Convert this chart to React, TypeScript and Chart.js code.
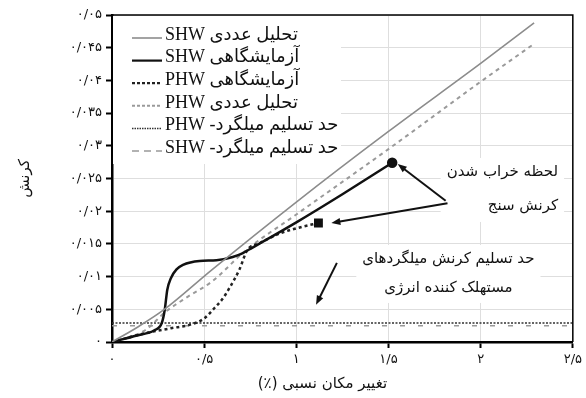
import React, { useEffect, useRef } from "react";
import { Chart, registerables } from "chart.js";
Chart.register(...registerables);

// ---------- data ----------
const xTickLabels = ["۰", "۰/۵", "۱", "۱/۵", "۲", "۲/۵"];
const yTickLabels = ["۰", "۰/۰۰۵", "۰/۰۱", "۰/۰۱۵", "۰/۰۲", "۰/۰۲۵", "۰/۰۳", "۰/۰۳۵", "۰/۰۴", "۰/۰۴۵", "۰/۰۵"];

const seriesLabels = [
  "تحلیل عددی SHW",
  "آزمایشگاهی SHW",
  "آزمایشگاهی PHW",
  "تحلیل عددی PHW",
  "حد تسلیم میلگرد- PHW",
  "حد تسلیم میلگرد- SHW",
];

const shwNumX = [0, 0.14, 0.28, 0.54, 1.0, 1.5, 2.0, 2.29];
const shwNumY = [0, 0.0023, 0.0049, 0.011, 0.0214, 0.0322, 0.0426, 0.0488];

const shwExpX = [0, 0.135, 0.23, 0.27, 0.286, 0.3, 0.32, 0.35, 0.385, 0.475, 0.567, 0.655, 0.71, 0.76, 1.0, 1.25, 1.52];
const shwExpY = [0, 0.001, 0.0018, 0.0029, 0.0049, 0.008, 0.0098, 0.0111, 0.0118, 0.0124, 0.0125, 0.013, 0.0136, 0.0144, 0.0183, 0.0226, 0.0274];

const phwExpX = [0, 0.19, 0.32, 0.43, 0.5, 0.556, 0.6, 0.64, 0.69, 0.735, 0.8, 0.92, 1.03, 1.12];
const phwExpY = [0, 0.0014, 0.0021, 0.0027, 0.0036, 0.0052, 0.0066, 0.0084, 0.011, 0.0141, 0.0151, 0.0167, 0.0176, 0.0182];

const phwNumX = [0, 0.18, 0.29, 0.41, 0.54, 0.73, 1.0, 1.5, 2.0, 2.28];
const phwNumY = [0, 0.0018, 0.0046, 0.0069, 0.0092, 0.0141, 0.0195, 0.0295, 0.0398, 0.0454];

const yieldX = [0, 2.5];
const phwYieldY = [0.0029, 0.0029];
const shwYieldY = [0.0025, 0.0025];

const xTitle = "تغییر مکان نسبی (٪)";
const yTitle = "کرنش";
const noteGauge = ["لحظه خراب شدن", "کرنش سنج"];
const noteYield = ["حد تسلیم کرنش میلگردهای", "مستهلک کننده انرژی"];

// annotation anchors in data units
const gaugeNoteAt = { x: 2.42, y: 0.026 };
const yieldNoteAt = { x: 1.825, y: 0.0127 };
const arrows = [
  { x1: 1.81, y1: 0.0216, x2: 1.55, y2: 0.0272 },
  { x1: 1.82, y1: 0.0212, x2: 1.19, y2: 0.0182 },
  { x1: 1.22, y1: 0.0121, x2: 1.107, y2: 0.0057 },
];

const mk = (xs: number[], ys: number[]) => xs.map((v, i) => ({ x: v, y: ys[i] }));

const legendDash = [[], [], [3, 2], [3, 2], [1.5, 1], [7, 5]];
const PERSIAN = "'DejaVu Sans', sans-serif";
const MIXED = "'Liberation Serif', 'DejaVu Sans', serif";

function drawArrow(ctx: CanvasRenderingContext2D, x1: number, y1: number, x2: number, y2: number) {
  const ang = Math.atan2(y2 - y1, x2 - x1);
  const L = 9, W = 3.5;
  ctx.beginPath();
  ctx.moveTo(x1, y1);
  ctx.lineTo(x2 - L * 0.8 * Math.cos(ang), y2 - L * 0.8 * Math.sin(ang));
  ctx.stroke();
  ctx.beginPath();
  ctx.moveTo(x2, y2);
  ctx.lineTo(x2 - L * Math.cos(ang) + W * Math.sin(ang), y2 - L * Math.sin(ang) - W * Math.cos(ang));
  ctx.lineTo(x2 - L * Math.cos(ang) - W * Math.sin(ang), y2 - L * Math.sin(ang) + W * Math.cos(ang));
  ctx.closePath();
  ctx.fill();
}

const annotPlugin = {
  id: "annot",
  beforeDatasetsDraw(chart: any) {
    const { ctx, chartArea: ca, scales } = chart;
    const x = scales.x, y = scales.y;
    ctx.save();
    ctx.fillStyle = "#fff";
    // legend background
    ctx.fillRect(ca.left + 1, ca.top + 1, 228, 148);
    // note backgrounds
    ctx.font = `15px ${PERSIAN}`;
    const gx = x.getPixelForValue(gaugeNoteAt.x), gy = y.getPixelForValue(gaugeNoteAt.y);
    const gw = Math.max(...noteGauge.map((t) => ctx.measureText(t).width));
    ctx.fillRect(gx - gw - 6, gy - 14, gw + 12, 64);
    const yx = x.getPixelForValue(yieldNoteAt.x), yy = y.getPixelForValue(yieldNoteAt.y);
    const yw = Math.max(...noteYield.map((t) => ctx.measureText(t).width));
    ctx.fillRect(yx - yw / 2 - 6, yy - 14, yw + 12, 58);
    ctx.restore();
  },
  afterDraw(chart: any) {
    const { ctx, chartArea: ca, scales } = chart;
    const x = scales.x, y = scales.y;
    ctx.save();
    // frame (top/right)
    ctx.strokeStyle = "#000";
    ctx.lineWidth = 1.5;
    ctx.beginPath();
    ctx.moveTo(ca.left, ca.top);
    ctx.lineTo(ca.right, ca.top);
    ctx.lineTo(ca.right, ca.bottom);
    ctx.stroke();

    // legend
    chart.data.datasets.forEach((ds: any, i: number) => {
      const ry = ca.top + 23 + i * 22.6;
      const sx = ca.left + 20;
      ctx.strokeStyle = ds.borderColor;
      ctx.lineWidth = Math.min(ds.borderWidth, 2.2);
      ctx.setLineDash(legendDash[i]);
      ctx.beginPath();
      ctx.moveTo(sx, ry);
      ctx.lineTo(sx + 30, ry);
      ctx.stroke();
      ctx.setLineDash([]);
      ctx.fillStyle = "#111";
      ctx.font = `18px ${MIXED}`;
      ctx.direction = "rtl";
      ctx.textAlign = "left";
      ctx.textBaseline = "middle";
      ctx.fillText(ds.label, sx + 33, ry - 3);
    });

    // notes
    ctx.fillStyle = "#111";
    ctx.font = `15px ${PERSIAN}`;
    ctx.direction = "rtl";
    ctx.textBaseline = "middle";
    const gx = x.getPixelForValue(gaugeNoteAt.x), gy = y.getPixelForValue(gaugeNoteAt.y);
    ctx.textAlign = "right";
    noteGauge.forEach((t, i) => ctx.fillText(t, gx, gy + i * 34));
    const yx = x.getPixelForValue(yieldNoteAt.x), yy = y.getPixelForValue(yieldNoteAt.y);
    ctx.textAlign = "center";
    noteYield.forEach((t, i) => ctx.fillText(t, yx, yy + i * 29));

    // arrows
    ctx.strokeStyle = "#111";
    ctx.fillStyle = "#111";
    ctx.lineWidth = 2;
    arrows.forEach((a) =>
      drawArrow(ctx, x.getPixelForValue(a.x1), y.getPixelForValue(a.y1), x.getPixelForValue(a.x2), y.getPixelForValue(a.y2))
    );

    // axis titles
    ctx.font = `15px ${PERSIAN}`;
    ctx.textAlign = "center";
    ctx.fillText(xTitle, (ca.left + ca.right) / 2 - 20, 384);
    ctx.translate(25, (ca.top + ca.bottom) / 2);
    ctx.rotate(-Math.PI / 2);
    ctx.fillText(yTitle, 0, 0);
    ctx.restore();
  },
};

export default function App() {
  const ref = useRef<HTMLCanvasElement | null>(null);
  useEffect(() => {
    if (!ref.current) return;
    const lastOnly = (n: number, r: number) => (c: any) => (c.dataIndex === n - 1 ? r : 0);
    const chart = new Chart(ref.current, {
      type: "line",
      data: {
        datasets: [
          { label: seriesLabels[0], data: mk(shwNumX, shwNumY), borderColor: "#8c8c8c", borderWidth: 1.6, pointRadius: 0, cubicInterpolationMode: "monotone" },
          { label: seriesLabels[1], data: mk(shwExpX, shwExpY), borderColor: "#111", borderWidth: 2.5, pointRadius: lastOnly(shwExpX.length, 4), pointStyle: "circle", pointBackgroundColor: "#111", pointBorderColor: "#111", cubicInterpolationMode: "monotone" },
          { label: seriesLabels[2], data: mk(phwExpX, phwExpY), borderColor: "#222", borderWidth: 2.5, borderDash: [3, 3], pointRadius: lastOnly(phwExpX.length, 4.5), pointStyle: "rect", pointBackgroundColor: "#111", pointBorderColor: "#111", cubicInterpolationMode: "monotone" },
          { label: seriesLabels[3], data: mk(phwNumX, phwNumY), borderColor: "#9a9a9a", borderWidth: 2, borderDash: [4, 4], pointRadius: 0, cubicInterpolationMode: "monotone" },
          { label: seriesLabels[4], data: mk(yieldX, phwYieldY), borderColor: "#333", borderWidth: 1.5, borderDash: [2, 1.5], pointRadius: 0 },
          { label: seriesLabels[5], data: mk(yieldX, shwYieldY), borderColor: "#999", borderWidth: 1.5, borderDash: [5, 13], pointRadius: 0 },
        ] as any,
      },
      options: {
        animation: false,
        responsive: false,
        devicePixelRatio: 1,
        layout: { padding: { top: 15, right: 9, left: 0, bottom: 0 } },
        plugins: { legend: { display: false }, tooltip: { enabled: false } },
        scales: {
          x: {
            type: "linear",
            min: 0,
            max: 2.5,
            afterFit: (s: any) => { s.height = 56; },
            ticks: {
              stepSize: 0.5,
              autoSkip: false,
              maxRotation: 0,
              padding: 4,
              color: "#111",
              font: { family: PERSIAN, size: 13 },
              callback: (v: any) => xTickLabels[Math.round(Number(v) / 0.5)] ?? "",
            },
            grid: { color: "#dedede", lineWidth: 1, tickColor: "#000", tickLength: 6, tickWidth: 2 } as any,
            border: { color: "#000", width: 2.5 },
          },
          y: {
            type: "linear",
            min: 0,
            max: 0.05,
            afterFit: (s: any) => { s.width = 112; },
            ticks: {
              stepSize: 0.005,
              autoSkip: false,
              padding: 4,
              color: "#111",
              font: { family: PERSIAN, size: 13 },
              callback: (v: any) => yTickLabels[Math.round(Number(v) / 0.005)] ?? "",
            },
            grid: { color: "#dedede", lineWidth: 1, tickColor: "#000", tickLength: 6, tickWidth: 2 } as any,
            border: { color: "#000", width: 2.5 },
          },
        },
      } as any,
      plugins: [annotPlugin],
    });
    return () => chart.destroy();
  }, []);
  return (
    <div style={{ position: "fixed", left: 0, top: 0, width: 586, height: 398, background: "#fff" }}>
      <canvas ref={ref} width={586} height={398} style={{ display: "block" }} />
    </div>
  );
}
